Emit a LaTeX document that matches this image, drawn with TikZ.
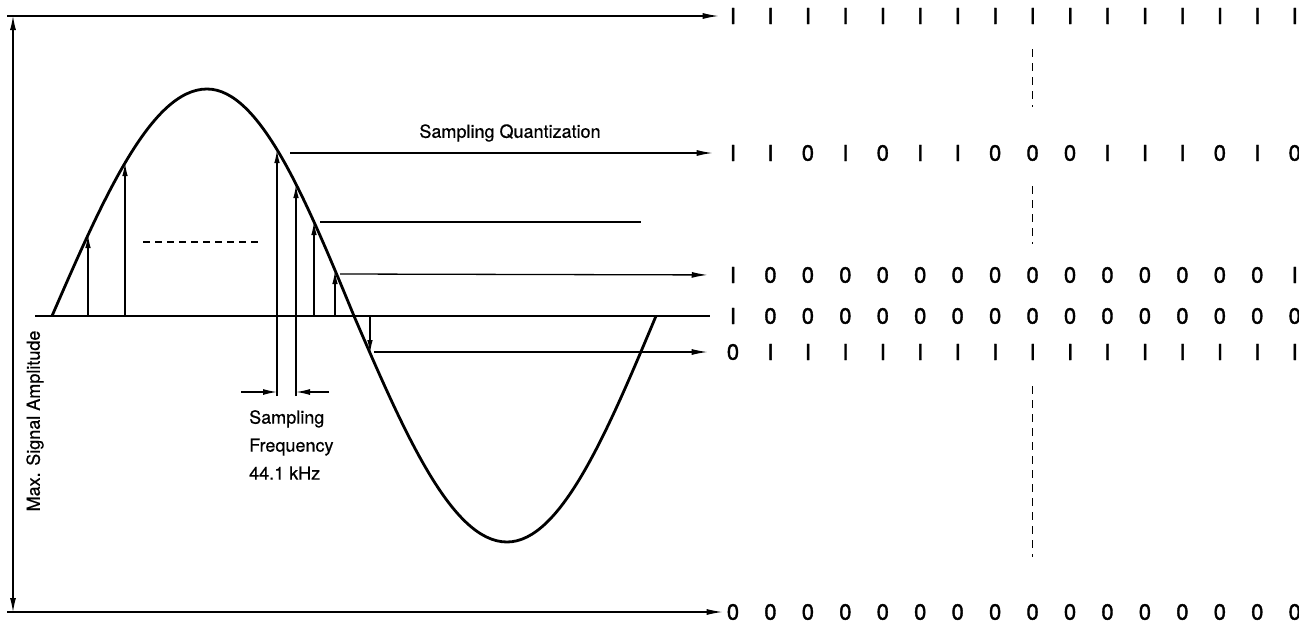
\documentclass[tikz,border=0pt]{standalone}
\usepackage{fontspec}
\setmainfont{TeX Gyre Heros}[FakeBold=0.6]
\newfontfamily\bitfont{TeX Gyre Heros}[FakeBold=1.6]
\usetikzlibrary{arrows.meta,positioning}
\tikzset{
    wave/.style={draw, line width=2.8pt, line join=round},
    axis/.style={draw, line width=1.6pt},
    level/.style={draw, line width=1.3pt},
    tolevel/.style={level, -{Latex[length=16pt, width=6pt]}},
    sample/.style={draw, line width=1.1pt, -{Latex[length=13pt, width=5.5pt]}},
    ampspan/.style={draw, line width=1.1pt, {Latex[length=14pt, width=6pt]}-{Latex[length=14pt, width=6pt]}},
    dimtip/.style={draw, line width=1.3pt, -{Latex[length=14pt, width=6pt]}},
    guide/.style={draw, line width=1.1pt, dash pattern=on 8pt off 6pt},
    bit/.style={font=\bitfont\fontsize{22}{22}\selectfont, inner sep=0pt},
    note/.style={font=\fontsize{18}{26}\selectfont, inner sep=0pt}
}

\begin{document}
\begin{tikzpicture}[x=1pt, y=-1pt]
    \useasboundingbox (0,0) rectangle (1299,624);

    % bit rows
    \foreach \d [count=\i from 0] in {I,I,I,I,I,I,I,I,I,I,I,I,I,I,I,I}
        \node[bit] (ra\i) at (733+37.45*\i,16) {\d};
    \foreach \d [count=\i from 0] in {I,I,0,I,0,I,I,0,0,0,I,I,I,0,I,0}
        \node[bit] (rb\i) at (733+37.45*\i,153) {\d};
    \foreach \d [count=\i from 0] in {I,0,0,0,0,0,0,0,0,0,0,0,0,0,0,I}
        \node[bit] (rc\i) at (733+37.45*\i,275) {\d};
    \foreach \d [count=\i from 0] in {I,0,0,0,0,0,0,0,0,0,0,0,0,0,0,0}
        \node[bit] (rd\i) at (733+37.45*\i,316) {\d};
    \foreach \d [count=\i from 0] in {0,I,I,I,I,I,I,I,I,I,I,I,I,I,I,I}
        \node[bit] (re\i) at (733+37.45*\i,352) {\d};
    \foreach \d [count=\i from 0] in {0,0,0,0,0,0,0,0,0,0,0,0,0,0,0,0}
        \node[bit] (rf\i) at (733+37.45*\i,612) {\d};

    % amplitude frame
    \coordinate (tl) at (7,16);
    \coordinate (bl) at (7,612);
    \coordinate (vt) at (13,16);
    \coordinate (vb) at (13,612);
    \draw[tolevel, shorten >=11pt] (tl) -- (ra0);
    \draw[tolevel, shorten >=4pt] (bl) -- (rf0);
    \draw[ampspan] (vt) -- (vb);
    \node[note, rotate=90] (amp) at (35,421) {Max. Signal Amplitude};

    % zero line
    \coordinate (z0) at (35,316);
    \draw[axis, shorten >=20pt] (z0) -- (rd0);

    % signal
    \coordinate (w0) at (52,316);
    \coordinate (w1) at (207,89);
    \coordinate (w2) at (354,316);
    \coordinate (w3) at (507,542);
    \coordinate (w4) at (656,316);
    \draw[wave] (w0) sin (w1) cos (w2) sin (w3) cos (w4);

    % samples
    \foreach \n/\x/\y/\b in {1/88/235/316, 2/125/163/316, 3/277/150/396,
                             4/296/185/396, 5/314/222/316, 6/335/271/316,
                             7/370/353/316} {
        \coordinate (s\n) at (\x,\y);
        \coordinate (b\n) at (\x,\b);
        \draw[sample] (b\n) -- (s\n);
    }
    \coordinate (h1) at (143,242);
    \coordinate (h2) at (262,242);
    \draw[guide, dash pattern=on 7pt off 5pt] (h1) -- (h2);

    % quantization levels
    \coordinate (q2) at (290,153);
    \coordinate (q3) at (320,222);
    \coordinate (p3) at (641,222);
    \coordinate (q4) at (340,274);
    \coordinate (q5) at (374,352);
    \draw[tolevel, shorten >=17pt] (q2) -- (rb0);
    \draw[level] (q3) -- (p3);
    \draw[tolevel, shorten >=22pt] (q4) -- (rc0);
    \draw[tolevel, shorten >=19pt] (q5) -- (re0);
    \node[note] (quant) at (510,133) {Sampling Quantization};

    % sampling period
    \coordinate (d1) at (241,392);
    \coordinate (d2) at (329,392);
    \coordinate (f1) at (277,392);
    \coordinate (f2) at (296,392);
    \draw[dimtip] (d1) -- (f1);
    \draw[dimtip] (d2) -- (f2);
    \node[note, align=left, anchor=north west] (freq) at (249,410)
        {Sampling\\[2pt]Frequency\\[2pt]44.1 kHz};

    % dashed column
    \draw[guide, shorten <=25pt, shorten >=38pt] (ra8) -- (rb8);
    \draw[guide, shorten <=25pt, shorten >=23pt] (rb8) -- (rc8);
    \draw[guide, shorten <=26pt, shorten >=47pt] (re8) -- (rf8);
\end{tikzpicture}
\end{document}
